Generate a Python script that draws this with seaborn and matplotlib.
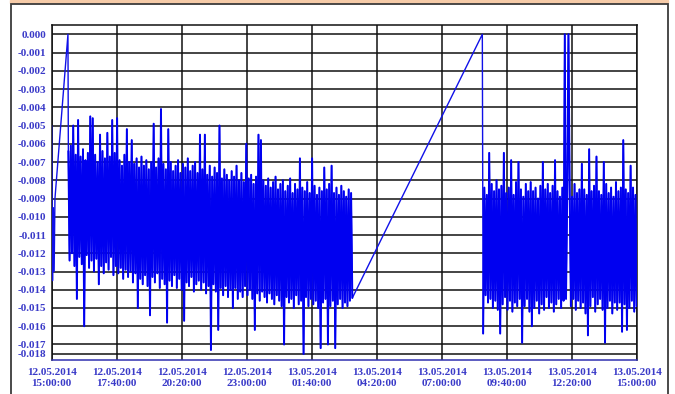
import pandas as pd
import numpy as np
import matplotlib.pyplot as plt
import matplotlib.dates as mdates
from matplotlib.patches import Rectangle
import seaborn as sns

# values in units of 1e-4
start_vals = [-50, -135, -95, -130, -90]
peak_times = ['2014-05-12 15:40', '2014-05-13 08:40']
peak_vals = [0, 0]

# 12.05 15:41 -> 13.05 03:20, every 3 min
vals_a = [
    -64, -124, -61, -120, -50, -127, -66, -145, -47, -122,
    -67, -126, -63, -160, -69, -121, -65, -128, -45, -124,
    -46, -130, -66, -123, -70, -137, -55, -127, -64, -131,
    -68, -125, -54, -129, -67, -122, -47, -132, -65, -127,
    -46, -131, -69, -128, -72, -134, -66, -129, -52, -133,
    -70, -130, -58, -136, -71, -131, -68, -150, -73, -134,
    -67, -137, -72, -132, -69, -138, -74, -154, -70, -133,
    -49, -136, -73, -131, -68, -139, -41, -134, -71, -137,
    -74, -158, -52, -135, -70, -138, -75, -132, -72, -139,
    -69, -134, -76, -140, -71, -157, -73, -136, -68, -138,
    -75, -133, -72, -141, -70, -137, -76, -135, -55, -140,
    -74, -136, -55, -142, -77, -138, -72, -173, -78, -137,
    -73, -141, -76, -162, -50, -139, -79, -143, -74, -138,
    -77, -144, -80, -140, -75, -150, -78, -139, -72, -145,
    -80, -141, -76, -144, -81, -138, -60, -143, -79, -140,
    -77, -145, -82, -162, -78, -142, -55, -146, -58, -141,
    -80, -144, -83, -147, -79, -142, -84, -145, -81, -148,
    -78, -143, -85, -146, -82, -149, -80, -170, -86, -144,
    -83, -147, -79, -145, -87, -150, -82, -143, -85, -148,
    -68, -146, -84, -175.2, -86, -144, -81, -149, -87, -145,
    -68, -148, -83, -146, -88, -150, -84, -172, -86, -147,
    -73, -145, -85, -170, -82, -149, -72, -146, -87, -172,
    -84, -148, -88, -145, -83, -150, -86, -147, -89, -149,
    -85, -146, -87, -144.5,
]

# 13.05 08:42 -> 15:00, every 3 min
vals_b = [
    -164, -84, -143, -88, -147, -65, -145, -82, -150, -86,
    -146, -80, -151, -85, -164, -83, -148, -65, -144, -87,
    -151, -84, -146, -69, -152, -88, -147, -81, -149, -70,
    -145, -85, -169, -89, -149, -82, -145, -86, -152, -81,
    -160, -86, -150, -84, -146, -90, -153, -83, -148, -70,
    -151, -85, -144, -82, -150, -87, -147, -83, -152, -69,
    -148, -86, -145, -89, -150, -84, -146, 0, -145, -88,
    0, -84, -149, -89, -145, -82, -151, -87, -146, -85,
    -150, -71, -147, -85, -153, -88, -165, -63, -149, -86,
    -144, -83, -152, -67, -148, -86, -145, -88, -151, -70,
    -169, -82, -150, -87, -146, -84, -153, -89, -147, -81,
    -151, -86, -147, -84, -163, -58, -148, -85, -162, -87,
    -150, -72, -146, -84, -152, -88, -149,
]

tick_times = pd.date_range('2014-05-12 15:00', '2014-05-13 15:00', freq='160min')

times_a = pd.date_range('2014-05-12 15:41', periods=len(vals_a), freq='3min')
times_b = pd.date_range('2014-05-13 08:42', periods=len(vals_b), freq='3min')

times = list(pd.date_range('2014-05-12 15:00', periods=len(start_vals), freq='2min'))
times += [pd.Timestamp(peak_times[0])] + list(times_a)
times += [pd.Timestamp(peak_times[1])] + list(times_b)
vals = start_vals + [peak_vals[0]] + vals_a + [peak_vals[1]] + vals_b

df = pd.DataFrame({'time': times, 'value': np.array(vals) / 10000.0})
dense = df['time'].isin(times_a) | df['time'].isin(times_b)
df['part'] = np.where(df['time'] < pd.Timestamp('2014-05-13 06:00'), 'a', 'b')

sns.set_style('white')
fig = plt.figure(figsize=(6.75, 3.94), dpi=100)

# outer frame like the source page
fig.patches.append(Rectangle((10 / 675, 1 - 3 / 394), 658 / 675, 3 / 394,
                             transform=fig.transFigure, color='#f6cba8', zorder=0))
fig.patches.append(Rectangle((11 / 675, -0.05), 656.5 / 675, 1.05 - 4 / 394,
                             transform=fig.transFigure, fill=False,
                             edgecolor='#3c3c3c', linewidth=1.3, zorder=0))

ax = fig.add_axes([51.7 / 675, 1 - 360 / 394, 585 / 675, 335 / 394])

# whole record thin, the noisy stretches a bit heavier so they read as a band
sns.lineplot(data=df, x='time', y='value', ax=ax, color='#1010e8',
             linewidth=1.0, estimator=None, zorder=3)
sns.lineplot(data=df[dense], x='time', y='value', units='part', ax=ax,
             color='#0000f0', linewidth=1.4, estimator=None, zorder=4)

ax.set_xlim(tick_times[0], tick_times[-1])
ax.set_ylim(-0.01785, 0.00051)

yticks = [-k / 1000 + 0.0 for k in range(18)] + [df['value'].min()]
ax.set_yticks(yticks)
ax.set_yticklabels([f"{v:.3f}" for v in yticks])
ax.set_xticks(tick_times)
ax.xaxis.set_major_formatter(mdates.DateFormatter('%d.%m.%Y\n%H:%M:%S'))

for lab in ax.get_xticklabels() + ax.get_yticklabels():
    lab.set_fontfamily('Liberation Serif')
    lab.set_fontweight('bold')
    lab.set_fontsize(8.0)
    lab.set_color('#3a3ac8')
for lab in ax.get_xticklabels():
    lab.set_linespacing(1.25)

ax.grid(True, color='#111111', linewidth=1.1, zorder=1)
ax.set_axisbelow(True)
ax.tick_params(axis='y', length=3, width=1, color='#222222', pad=1)
ax.tick_params(axis='x', length=3, width=1, color='#3030c0', pad=3)
for side in ['top', 'right', 'left']:
    ax.spines[side].set_color('#111111')
    ax.spines[side].set_linewidth(1.1)
ax.spines['bottom'].set_color('#3030b0')
ax.spines['bottom'].set_linewidth(1.1)
ax.set_xlabel('')
ax.set_ylabel('')

plt.savefig('out.png', dpi=100)
